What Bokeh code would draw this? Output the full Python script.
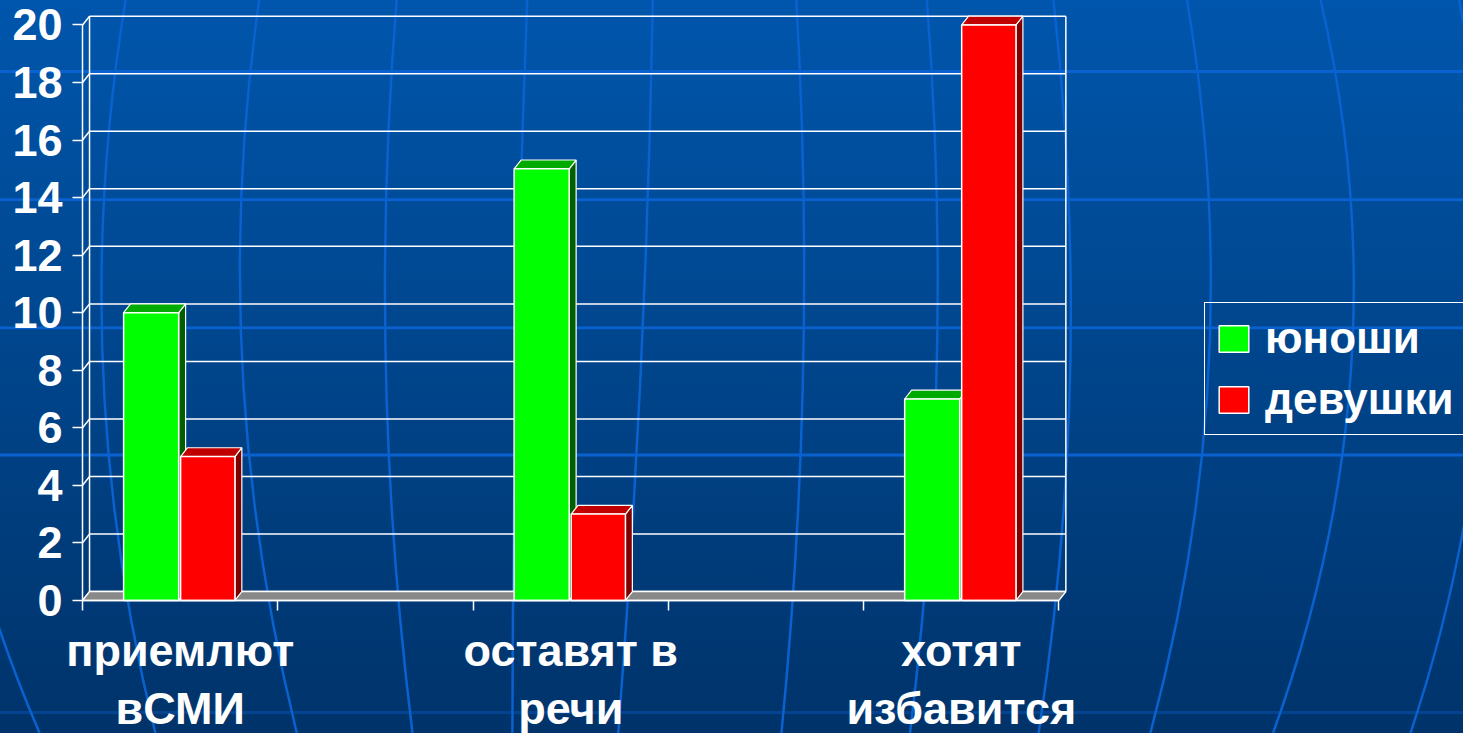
import numpy as np
from urllib.parse import quote
from bokeh.plotting import figure
from bokeh.models import Range1d, LinearAxis, FixedTicker, Legend, LegendItem
from bokeh.embed import file_html
from bokeh.resources import INLINE

# ---------------- data ----------------
categories = ["приемлют\nвСМИ", "оставят в\nречи", "хотят\nизбавится"]
series_names = ["юноши", "девушки"]
boys = [10, 15, 7]
girls = [5, 3, 20]
y_ticks = [0, 2, 4, 6, 8, 10, 12, 14, 16, 18, 20]

# ---------------- style / geometry ----------------
FONT = "Liberation Sans"
W, H = 1463, 733                   # canvas
REF_W, REF_H = 1479, 749           # reference picture size
SX, SY = W / REF_W, H / REF_H
# where the axes sit in the reference picture (pixels)
AX_X0, PX_X = 83.0, 197.4          # x data 0 at 83 px, 197.4 px per unit
AX_Y0, PX_Y = 613.0, 29.4          # y data 0 at 613 px, 29.4 px per unit
N_SLOTS = 5                        # category slots on axis (2 empty ones)
DX, DY = 0.0355, 0.306             # 3-D depth offset in data units
GREEN = ("#00FF00", "#00AA00", "#006000")   # front, top, side
RED = ("#FF0000", "#C00000", "#800000")
SERIES_OFFS = [(-0.29, -0.008), (0.002, 0.28)]

# background decoration (reference picture pixel space)
BG_TOP, BG_BOT = "#0056AC", "#00336A"
GLOBE = "#0A62D0"
H_LINES = [73, 204, 335, 465]
H_LINE_FAINT = [728]
MERIDIANS = [(-40, -60, 40), (127, 104, 157), (262, 245, 300), (401, 390, 417),
             (533, 522, 518), (660, 648, 625), (805, 812, 790), (937, 947, 920),
             (1065, 1082, 1050), (1200, 1222, 1163), (1335, 1366, 1287), (1475, 1500, 1426)]


def background_svg():
    s = [f"<svg xmlns='http://www.w3.org/2000/svg' width='100%' height='100%' "
         f"viewBox='0 0 {REF_W} {REF_H}' preserveAspectRatio='none'>",
         "<defs><linearGradient id='g' x1='0' y1='0' x2='0' y2='1'>",
         f"<stop offset='0' stop-color='{BG_TOP}'/><stop offset='1' stop-color='{BG_BOT}'/>",
         "</linearGradient></defs>",
         f"<rect x='0' y='0' width='{REF_W}' height='{REF_H}' fill='url(#g)'/>"]
    for y in H_LINES:
        s.append(f"<line x1='0' y1='{y}' x2='{REF_W}' y2='{y}' stroke='{GLOBE}' stroke-width='3'/>")
    for y in H_LINE_FAINT:
        s.append(f"<line x1='0' y1='{y}' x2='{REF_W}' y2='{y}' stroke='{GLOBE}' "
                 f"stroke-opacity='0.35' stroke-width='3'/>")
    for xt, xm, xb in MERIDIANS:
        x0, y0, x2, y2 = xt, 0, xb, REF_H
        mx, my = xm, REF_H / 2
        cx = 2 * mx - (x0 + x2) / 2
        cy = 2 * my - (y0 + y2) / 2
        s.append(f"<path d='M {x0} {y0} Q {cx} {cy} {x2} {y2}' fill='none' "
                 f"stroke='{GLOBE}' stroke-width='2.5'/>")
    s.append("</svg>")
    return "".join(s)


x_range = Range1d(-AX_X0 / PX_X, (REF_W - AX_X0) / PX_X)
y_range = Range1d((AX_Y0 - REF_H) / PX_Y, AX_Y0 / PX_Y)

p = figure(width=W, height=H, output_backend="svg", toolbar_location=None,
           x_range=x_range, y_range=y_range, x_axis_type=None, y_axis_type=None,
           min_border_left=0, min_border_right=0, min_border_top=0, min_border_bottom=0)
p.background_fill_color = None
p.border_fill_color = None
p.outline_line_color = None
p.xgrid.visible = False
p.ygrid.visible = False
p.styles = {
    "background-image": 'url("data:image/svg+xml;charset=utf-8,' + quote(background_svg()) + '")',
    "background-size": "100% 100%",
    "background-repeat": "no-repeat",
}

ymax = max(y_ticks)
n = len(y_ticks)

# back wall grid lines + connectors + wall edges
p.segment(x0=[DX] * n, y0=[v + DY for v in y_ticks], x1=[N_SLOTS + DX] * n,
          y1=[v + DY for v in y_ticks], line_color="white", line_width=1.5)
p.segment(x0=[0] * n, y0=y_ticks, x1=[DX] * n, y1=[v + DY for v in y_ticks],
          line_color="white", line_width=1.5)
p.segment(x0=[DX, N_SLOTS + DX], y0=[DY, DY], x1=[DX, N_SLOTS + DX],
          y1=[ymax + DY, ymax + DY], line_color="white", line_width=1.5)

# floor
p.patch([0, N_SLOTS, N_SLOTS + DX, DX], [0, 0, DY, DY], fill_color="#888888",
        line_color="white", line_width=1.5)

cat_x = np.array([2 * i + 0.5 for i in range(len(categories))])
fronts = []
for vals, (lo, hi), cols in zip([boys, girls], SERIES_OFFS, [GREEN, RED]):
    v = np.array(vals, dtype=float)
    x0 = cat_x + lo
    x1 = cat_x + hi
    side_xs = [[a, a + DX, a + DX, a] for a in x1]
    side_ys = [[0, DY, t + DY, t] for t in v]
    top_xs = [[a, b, b + DX, a + DX] for a, b in zip(x0, x1)]
    top_ys = [[t, t, t + DY, t + DY] for t in v]
    p.patches(side_xs, side_ys, fill_color=cols[2], line_color="white", line_width=1.2)
    p.patches(top_xs, top_ys, fill_color=cols[1], line_color="white", line_width=1.2)
    r = p.quad(left=x0, right=x1, bottom=0, top=v, fill_color=cols[0],
               line_color="white", line_width=1.5)
    fronts.append(r)

# y axis (drawn at x = 0 inside the frame)
yax = LinearAxis(ticker=FixedTicker(ticks=y_ticks, minor_ticks=[]), bounds=(0, ymax),
                 fixed_location=0)
yax.axis_line_color = "white"
yax.axis_line_width = 1.5
yax.major_tick_line_color = "white"
yax.major_tick_line_width = 1.5
yax.major_tick_out = 10
yax.major_tick_in = 0
yax.minor_tick_line_color = None
yax.major_label_standoff = 10
yax.major_label_text_font = FONT
yax.major_label_text_font_style = "bold"
yax.major_label_text_font_size = "45px"
yax.major_label_text_color = "white"
p.add_layout(yax, "left")

# x axis (drawn at y = 0 inside the frame); ticks at slot edges, labels at slot centres
xax = LinearAxis(ticker=FixedTicker(ticks=list(cat_x), minor_ticks=list(range(N_SLOTS + 1))),
                 bounds=(0, N_SLOTS), fixed_location=0,
                 major_label_overrides={float(c): lab for c, lab in zip(cat_x, categories)})
xax.axis_line_color = "white"
xax.axis_line_width = 1.5
xax.major_tick_line_color = None
xax.major_tick_out = 0
xax.major_tick_in = 0
xax.minor_tick_line_color = "white"
xax.minor_tick_line_width = 1.5
xax.minor_tick_out = 10
xax.minor_tick_in = 0
xax.major_label_standoff = 15
xax.major_label_text_font = FONT
xax.major_label_text_font_style = "bold"
xax.major_label_text_font_size = "45px"
xax.major_label_text_color = "white"
xax.major_label_text_line_height = 1.13
p.add_layout(xax, "below")

legend = Legend(items=[LegendItem(label=series_names[0], renderers=[fronts[0]]),
                       LegendItem(label=series_names[1], renderers=[fronts[1]])],
                location=(round(1217 * SX), round(H - 435)))
legend.label_text_font = FONT
legend.label_text_font_style = "bold"
legend.label_text_font_size = "44px"
legend.label_text_color = "white"
legend.glyph_width = 37
legend.glyph_height = 33
legend.label_standoff = 13
legend.padding = 10
legend.spacing = 11
legend.margin = 0
legend.border_line_color = "white"
legend.border_line_alpha = 1.0
legend.border_line_width = 1.5
legend.background_fill_alpha = 0
p.add_layout(legend)

open("out.html", "w").write(file_html(p, INLINE))
